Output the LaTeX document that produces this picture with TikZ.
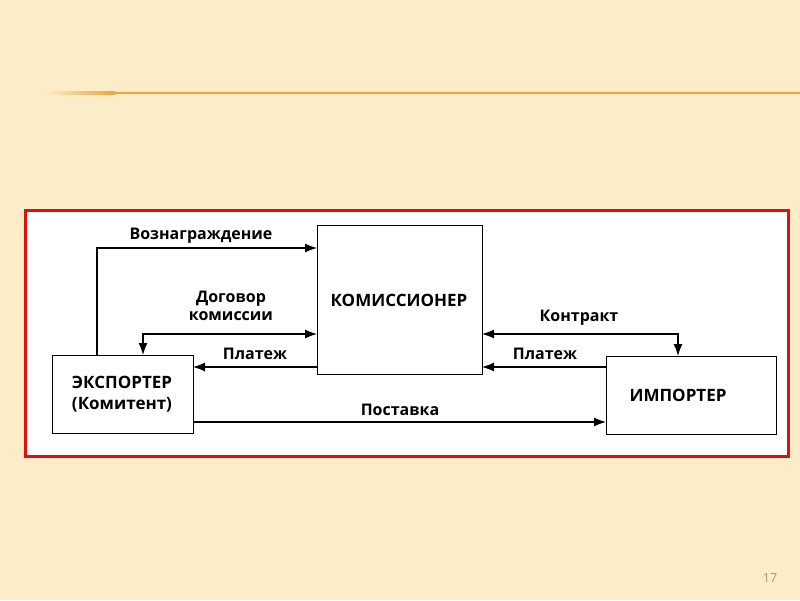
\documentclass[tikz,border=0pt]{standalone}
\usepackage{fontspec}
\setmainfont{Open Sans}
\usetikzlibrary{arrows.meta,positioning}
\definecolor{bg}{HTML}{FCEDC8}
\definecolor{rule}{HTML}{E8A640}
\definecolor{frame}{HTML}{DD1111}
\definecolor{pnum}{HTML}{B8964E}
\begin{document}
\begin{tikzpicture}[x=1pt,y=-1pt,
  box/.style={draw=black,line width=1.3pt,fill=white,inner sep=0pt,anchor=north west},
  lbl/.style={font=\bfseries\fontsize{16}{18}\selectfont,align=center,inner sep=0pt},
  blbl/.style={font=\bfseries\fontsize{17}{21}\selectfont,align=center,inner sep=0pt},
  conn/.style={line width=1.2pt,-{Latex[length=12pt,width=9pt]}},
  dconn/.style={line width=1.2pt,{Latex[length=12pt,width=9pt]}-{Latex[length=12pt,width=9pt]}}]
\fill[bg] (0,0) rectangle (800,600);
\useasboundingbox (0,0) rectangle (800,600);
% top rule
\shade[left color=bg,right color=rule] (45,91.8) rectangle (115,94.2);
\fill[rule] (115,91.8) rectangle (800,94.2);
% frame
\draw[frame,line width=3pt,fill=white] (25.5,210.5) rectangle (788.5,456.5);
% boxes
\node[box,minimum width=165pt,minimum height=149pt] (kom) at (317,225) {};
\node[blbl] (komt) at (399,300) {КОМИССИОНЕР};
\node[box,minimum width=141pt,minimum height=78pt] (exp) at (52,355) {};
\node[blbl] (expt) at (122,394.5) {ЭКСПОРТЕР\\(Комитент)};
\node[box,minimum width=170pt,minimum height=78pt] (imp) at (606,356) {};
\node[blbl] (impt) at (678,395) {ИМПОРТЕР};
% coordinates
\coordinate (c1) at (97,355);
\coordinate (c1t) at (97,248);
\coordinate (k1) at (317,248);
\coordinate (d1) at (143,355);
\coordinate (d1t) at (143,334);
\coordinate (k2) at (317,334);
\coordinate (k3) at (317,367);
\coordinate (e3) at (193,367);
\coordinate (k4) at (482,334);
\coordinate (i4t) at (678,334);
\coordinate (i4) at (678,356);
\coordinate (i5) at (606,367);
\coordinate (k5) at (482,367);
\coordinate (e6) at (193,422);
\coordinate (i6) at (606,422);
% connectors
\draw[conn] (c1) -- (c1t) -- (k1);
\draw[dconn] (d1) -- (d1t) -- (k2);
\draw[conn] (k3) -- (e3);
\draw[dconn] (k4) -- (i4t) -- (i4);
\draw[conn] (i5) -- (k5);
\draw[conn] (e6) -- (i6);
% labels
\node[lbl] (l1) at (201,236) {Вознаграждение};
\node[lbl] (l2) at (231,306) {Договор\\комиссии};
\node[lbl] (l3) at (255,354) {Платеж};
\node[lbl] (l4) at (579,318) {Контракт};
\node[lbl] (l5) at (545,354) {Платеж};
\node[lbl] (l6) at (400,410) {Поставка};
\node[font=\fontsize{12.5}{14}\selectfont,text=pnum] (pn) at (770,578) {17};
\end{tikzpicture}
\end{document}
